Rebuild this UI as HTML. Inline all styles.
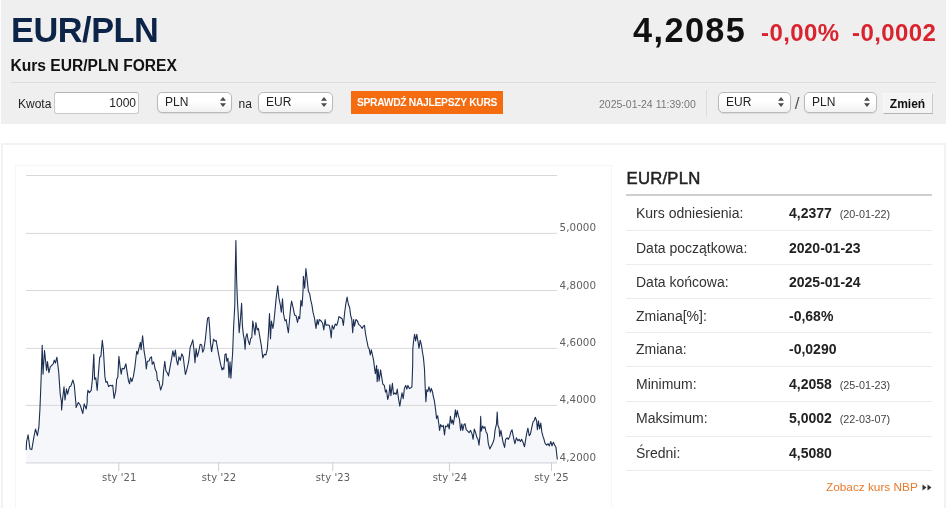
<!DOCTYPE html>
<html lang="pl">
<head>
<meta charset="utf-8">
<title>EUR/PLN</title>
<style>
html,body{margin:0;padding:0;background:#fff;}
body{width:948px;height:508px;position:relative;overflow:hidden;font-family:"Liberation Sans",sans-serif;color:#222;}
.abs{position:absolute;white-space:nowrap;}
#top{position:absolute;left:1px;top:0;width:945px;height:124px;background:#efefef;}
#h1{left:11px;top:10px;font-size:34.3px;line-height:40px;font-weight:bold;color:#0c2448;letter-spacing:-0.45px;}
#h2{left:10.5px;top:57px;font-size:15.6px;line-height:18px;font-weight:bold;color:#111;}
#price{font-size:34.3px;line-height:40px;font-weight:bold;color:#111;letter-spacing:1.4px;}
.chg{font-size:24px;line-height:28px;font-weight:bold;color:#d9232e;letter-spacing:.4px;}
#divider{position:absolute;left:11px;top:82px;width:925px;height:1px;background:#dcdcdc;}
.lbl{font-size:12px;line-height:14px;color:#222;}
.inp{position:absolute;box-sizing:border-box;background:#fff;border:1px solid #c9c9c9;border-top-color:#b5b5b5;border-radius:3px;font-size:12px;line-height:21px;text-align:right;padding-right:2px;color:#222;}
.sel{position:absolute;box-sizing:border-box;background:linear-gradient(#fff 45%,#f1f1f1);border:1px solid #b9b9b9;border-radius:5px;font-size:12px;line-height:19px;padding-left:7px;color:#222;box-shadow:0 1px 1px rgba(0,0,0,.08);}
.sel svg{position:absolute;right:5.5px;top:4px;}
#cta{position:absolute;left:351px;top:91px;width:152px;height:23px;background:#f56b10;color:#fff;font-size:10.3px;font-weight:bold;line-height:24.3px;text-align:center;letter-spacing:-0.3px;}
#date{left:599px;top:98px;font-size:10.5px;line-height:13px;color:#777;}
#vsep{position:absolute;left:706px;top:90px;width:1px;height:26px;background:#dcdcdc;}
#btn{position:absolute;box-sizing:border-box;left:882.5px;top:92.5px;width:50px;height:21.5px;background:#f4f4f4;border:1px solid #f7f7f7;border-bottom-color:#b4b4b4;border-right-color:#cacaca;font-size:12px;font-weight:bold;line-height:20px;text-align:center;color:#111;}
#frame{position:absolute;box-sizing:border-box;left:1px;top:143.3px;width:945px;height:380px;border:2.6px solid #f2f2f2;background:#fff;}
#chartbox{position:absolute;box-sizing:border-box;left:15px;top:165px;width:597px;height:360px;border:1px solid #f6f6f6;background:#fff;}
#ptitle{left:626.5px;top:169px;font-size:16.7px;line-height:20px;color:#222;-webkit-text-stroke:0.5px #222;letter-spacing:0.25px;}
#phead{position:absolute;left:626px;top:193.8px;width:306px;height:2px;background:#cfcfcf;}
.row{position:absolute;left:626px;width:306px;height:1px;background:#ececec;}
.k{left:636px;font-size:14px;line-height:16px;color:#333;}
.v{left:789px;font-size:14px;line-height:16px;font-weight:bold;color:#222;}
.d{font-size:10.8px;line-height:16px;color:#444;}
#nbp{left:826px;top:480px;font-size:11.8px;line-height:14px;color:#e87a2c;}
svg text{font-family:"DejaVu Sans","Liberation Sans",sans-serif;font-size:10px;fill:#606060;letter-spacing:0.1px;}
svg text.yl{font-size:10.3px;}
</style>
</head>
<body>
<div id="top"></div>
<div class="abs" id="h1">EUR/PLN</div>
<div class="abs" id="h2">Kurs EUR/PLN FOREX</div>
<div class="abs" id="price" style="left:633px;top:10.3px;">4,2085</div>
<div class="abs chg" style="left:761px;top:19.3px;">-0,00%</div>
<div class="abs chg" style="left:852px;top:19.3px;">-0,0002</div>
<div id="divider"></div>

<div class="abs lbl" style="left:18px;top:96.5px;">Kwota</div>
<div class="inp" style="left:54px;top:92.4px;width:85px;height:21.2px;">1000</div>
<div class="sel" style="left:157px;top:92.2px;width:75px;height:20.6px;">PLN<svg width="6" height="10" viewBox="0 0 6 10"><path d="M3 0L6 3.8H0ZM3 10L6 6.2H0Z" fill="#4a4a4a"/></svg></div>
<div class="abs lbl" style="left:238.5px;top:96.5px;">na</div>
<div class="sel" style="left:258px;top:92.2px;width:75px;height:20.6px;">EUR<svg width="6" height="10" viewBox="0 0 6 10"><path d="M3 0L6 3.8H0ZM3 10L6 6.2H0Z" fill="#4a4a4a"/></svg></div>
<div id="cta">SPRAWDŹ NAJLEPSZY KURS</div>
<div class="abs" id="date">2025-01-24 11:39:00</div>
<div id="vsep"></div>
<div class="sel" style="left:718px;top:92.2px;width:72.8px;height:20.6px;">EUR<svg width="6" height="10" viewBox="0 0 6 10"><path d="M3 0L6 3.8H0ZM3 10L6 6.2H0Z" fill="#4a4a4a"/></svg></div>
<div class="abs lbl" style="left:794.8px;top:95.3px;font-size:17px;line-height:18px;color:#555;">/</div>
<div class="sel" style="left:804px;top:92.2px;width:72.8px;height:20.6px;">PLN<svg width="6" height="10" viewBox="0 0 6 10"><path d="M3 0L6 3.8H0ZM3 10L6 6.2H0Z" fill="#4a4a4a"/></svg></div>
<div id="btn">Zmień</div>

<div id="frame"></div>
<div id="chartbox"></div>

<svg id="chart" class="abs" style="left:0;top:150px;" width="620" height="358" viewBox="0 150 620 358">
<!--AREA--><path d="M26.2 449.6 L26.6 441.5 L28.1 434.9 L30.0 448.9 L31.8 449.6 L34.0 436.4 L35.5 429.0 L37.4 435.6 L38.9 426.8 L39.9 409.8 L40.5 395.0 L41.1 379.3 L42.2 345.3 L43.0 374.1 L44.5 350.5 L46.6 370.4 L47.5 361.6 L48.9 372.7 L50.3 366.8 L53.2 363.8 L54.3 360.1 L55.4 363.1 L56.9 357.2 L58.7 371.9 L60.2 394.1 L61.4 401.5 L61.6 410.0 L61.6 409.8 L62.8 397.0 L64.0 386.7 L65.0 400.0 L66.5 388.9 L67.6 394.1 L69.5 386.7 L70.9 385.9 L72.9 380.0 L74.3 385.2 L76.1 405.9 L76.1 407.6 L78.3 402.4 L80.3 405.3 L82.8 413.5 L84.2 403.9 L86.2 409.0 L87.2 402.4 L87.2 397.0 L87.9 390.4 L89.4 392.6 L91.2 390.4 L92.4 379.3 L93.8 354.2 L94.6 379.3 L95.8 377.8 L97.2 390.4 L98.3 374.9 L99.7 357.2 L100.9 356.4 L102.3 340.2 L103.4 349.8 L104.9 376.4 L105.9 382.3 L107.1 381.5 L108.6 386.7 L110.4 385.2 L111.6 385.9 L112.7 385.2 L114.1 398.5 L115.7 391.1 L116.7 379.3 L117.8 377.1 L118.9 356.4 L120.1 366.8 L121.2 374.1 L122.2 368.2 L124.1 369.0 L125.9 363.8 L127.1 371.9 L128.5 380.8 L129.6 383.7 L130.5 377.8 L131.9 381.5 L133.4 376.4 L134.9 366.8 L136.7 351.2 L137.7 354.2 L138.9 348.3 L140.4 342.4 L141.1 349.8 L142.6 335.7 L144.1 351.2 L145.5 359.4 L146.3 369.0 L147.3 361.6 L149.2 360.8 L150.0 358.2 L151.5 356.8 L152.2 364.1 L153.7 361.9 L155.2 369.3 L156.6 372.3 L157.4 380.4 L158.9 381.1 L160.6 390.0 L162.6 384.1 L163.6 370.8 L164.8 361.2 L165.9 370.8 L167.4 373.0 L168.5 375.9 L169.9 367.8 L171.4 359.7 L172.9 350.8 L174.1 356.8 L175.4 350.1 L176.6 360.4 L177.8 364.9 L178.9 356.8 L180.3 360.4 L181.8 353.8 L183.2 356.8 L184.7 369.3 L185.4 374.5 L186.9 369.3 L188.7 361.2 L190.2 347.2 L191.4 344.2 L192.8 339.8 L194.0 350.1 L195.0 362.7 L196.1 348.6 L197.3 356.8 L198.7 351.6 L200.2 344.2 L201.7 344.9 L202.7 352.3 L203.9 349.4 L205.4 339.0 L206.6 326.9 L207.6 318.1 L208.8 317.3 L209.7 328.4 L210.5 342.7 L211.6 351.6 L212.8 344.2 L213.5 339.0 L215.0 341.2 L216.2 340.5 L217.6 348.6 L219.1 356.8 L220.6 364.1 L222.1 370.0 L223.1 367.8 L223.8 369.3 L225.0 354.5 L226.1 353.8 L226.8 361.2 L228.0 358.2 L229.0 377.4 L230.0 361.9 L230.9 378.2 L232.0 361.9 L232.6 353.5 L233.6 326.9 L234.8 304.8 L235.1 279.3 L235.9 240.6 L236.6 279.3 L237.4 300.3 L238.5 319.5 L239.2 332.8 L240.4 319.5 L241.6 303.3 L242.4 325.4 L243.3 334.3 L244.4 340.2 L245.1 349.1 L245.8 337.3 L247.0 333.6 L248.1 340.2 L249.5 344.6 L250.7 338.7 L251.8 337.3 L252.8 321.0 L254.0 328.4 L255.0 335.0 L255.9 322.5 L257.2 329.9 L258.4 328.4 L259.9 337.3 L261.4 346.1 L262.8 357.9 L264.3 354.2 L265.8 355.0 L267.3 349.1 L268.4 334.3 L269.5 313.6 L270.5 338.7 L271.4 321.0 L272.9 328.4 L273.9 321.8 L275.1 309.2 L276.1 298.9 L277.7 285.7 L278.9 297.8 L280.3 304.8 L281.3 312.2 L282.5 298.9 L283.5 313.6 L285.0 321.0 L286.2 319.5 L287.2 326.2 L288.4 332.8 L289.4 321.0 L290.6 307.7 L291.6 301.1 L293.1 307.7 L294.6 315.1 L296.1 315.8 L297.5 322.5 L298.6 316.6 L299.7 318.8 L300.9 300.3 L302.0 306.2 L303.0 291.5 L303.4 276.4 L304.7 288.2 L305.9 268.6 L307.2 280.1 L308.4 291.2 L309.6 293.4 L310.8 300.3 L311.9 304.8 L313.0 312.2 L314.5 318.1 L316.0 328.4 L317.2 319.5 L318.2 324.7 L319.2 319.5 L321.2 321.0 L322.6 323.2 L323.8 329.9 L325.1 319.5 L326.0 325.4 L327.8 324.7 L329.3 325.4 L330.5 331.4 L331.2 338.0 L332.2 325.4 L333.7 329.1 L335.2 324.0 L336.7 325.4 L337.7 322.5 L338.9 316.6 L340.0 317.3 L342.2 318.8 L343.4 325.4 L344.7 312.2 L345.9 303.3 L347.1 297.1 L348.3 304.0 L349.7 307.7 L350.6 315.1 L351.8 319.5 L352.7 332.8 L353.6 319.5 L354.5 326.2 L355.9 319.5 L357.4 321.0 L358.9 324.7 L360.7 326.2 L362.2 328.4 L363.3 326.2 L364.5 325.4 L365.4 332.8 L366.6 339.5 L368.1 346.9 L369.2 349.1 L370.3 355.0 L371.3 349.8 L372.5 355.0 L373.7 360.9 L374.7 369.2 L375.4 373.6 L376.6 365.5 L377.2 381.8 L378.1 369.2 L379.1 381.0 L380.6 369.9 L381.6 376.6 L382.8 384.0 L384.3 385.4 L385.5 392.1 L386.5 389.9 L387.7 399.5 L389.0 394.3 L389.9 384.7 L390.9 395.8 L392.4 383.2 L393.5 394.3 L394.9 392.8 L396.1 394.3 L397.3 389.1 L398.3 397.3 L399.8 406.1 L401.0 398.7 L402.0 392.8 L403.2 398.7 L404.4 388.4 L405.7 385.4 L406.8 389.1 L407.9 385.4 L409.4 388.4 L410.9 387.7 L411.9 386.9 L412.7 364.8 L412.8 349.1 L413.5 341.7 L414.6 334.3 L415.6 340.9 L416.8 334.3 L418.0 341.7 L419.0 348.3 L420.2 340.2 L421.5 345.4 L422.7 353.5 L423.4 357.4 L424.5 369.2 L425.2 386.9 L425.9 401.7 L426.8 389.9 L427.9 391.4 L428.9 386.9 L430.4 392.1 L431.3 388.4 L432.6 392.1 L433.0 395.0 L434.4 400.9 L435.6 409.8 L436.6 418.6 L437.7 415.7 L438.6 422.3 L439.6 430.4 L440.6 424.5 L441.8 426.8 L443.3 425.3 L444.5 434.9 L445.5 426.0 L447.0 426.8 L448.0 423.8 L449.2 429.0 L450.4 416.4 L451.4 423.1 L452.4 420.1 L453.3 424.5 L454.5 417.2 L455.4 409.8 L456.3 417.2 L457.3 410.5 L458.4 415.7 L459.5 419.4 L460.6 430.4 L461.8 423.8 L462.8 430.4 L464.0 424.5 L465.1 423.8 L466.2 429.7 L467.7 431.2 L469.1 432.7 L470.6 430.4 L472.1 434.1 L473.1 439.3 L474.3 429.0 L475.8 433.4 L477.0 437.8 L478.0 439.3 L479.0 445.2 L479.9 436.4 L480.7 416.4 L481.2 431.2 L482.7 426.0 L483.9 428.2 L484.9 426.8 L486.1 431.9 L487.3 434.1 L488.3 443.7 L489.8 448.9 L491.3 445.9 L492.8 443.0 L494.2 438.6 L495.0 430.4 L496.5 423.8 L497.2 412.0 L497.9 425.3 L499.1 428.2 L499.7 436.4 L500.9 430.4 L502.1 437.1 L503.1 442.3 L504.6 447.4 L505.6 439.3 L507.1 437.8 L508.3 439.3 L509.7 436.4 L510.9 431.9 L512.0 429.7 L513.0 434.9 L513.9 439.3 L514.9 443.7 L516.4 437.8 L517.9 440.8 L519.1 439.3 L520.4 441.5 L521.6 439.3 L523.0 442.3 L524.5 446.7 L525.7 439.3 L526.7 433.4 L527.9 428.2 L529.2 435.6 L530.4 434.1 L531.9 426.8 L533.1 421.6 L534.1 420.8 L535.3 417.2 L536.6 420.8 L537.4 429.7 L538.5 420.8 L539.6 429.0 L540.8 423.1 L541.8 431.9 L543.0 436.4 L544.0 439.3 L545.2 443.7 L546.7 445.2 L548.1 443.7 L549.3 445.9 L550.8 441.5 L552.0 445.9 L553.3 442.3 L554.8 445.2 L556.0 447.4 L556.7 454.1 L557.3 459.2 L557.3 462.5 L26.2 462.5 Z" fill="#f5f7fa" stroke="none"/><!--/AREA-->
<g stroke="#d8d8d8" stroke-width="1" fill="none">
<path d="M26 175.5H557.1M26 233.4H557.1M26 290.5H557.1M26 348.4H557.1M26 405.4H557.1"/>
</g>
<g stroke="#c9cfd8" stroke-width="1" fill="none">
<path d="M26 462.9H557.1"/>
<path d="M118.8 462.5V471M218.6 462.5V471M332.8 462.5V471M449.5 462.5V471M551.5 462.5V471"/>
</g>
<!--LINE--><path d="M26.2 449.6 L26.6 441.5 L28.1 434.9 L30.0 448.9 L31.8 449.6 L34.0 436.4 L35.5 429.0 L37.4 435.6 L38.9 426.8 L39.9 409.8 L40.5 395.0 L41.1 379.3 L42.2 345.3 L43.0 374.1 L44.5 350.5 L46.6 370.4 L47.5 361.6 L48.9 372.7 L50.3 366.8 L53.2 363.8 L54.3 360.1 L55.4 363.1 L56.9 357.2 L58.7 371.9 L60.2 394.1 L61.4 401.5 L61.6 410.0 L61.6 409.8 L62.8 397.0 L64.0 386.7 L65.0 400.0 L66.5 388.9 L67.6 394.1 L69.5 386.7 L70.9 385.9 L72.9 380.0 L74.3 385.2 L76.1 405.9 L76.1 407.6 L78.3 402.4 L80.3 405.3 L82.8 413.5 L84.2 403.9 L86.2 409.0 L87.2 402.4 L87.2 397.0 L87.9 390.4 L89.4 392.6 L91.2 390.4 L92.4 379.3 L93.8 354.2 L94.6 379.3 L95.8 377.8 L97.2 390.4 L98.3 374.9 L99.7 357.2 L100.9 356.4 L102.3 340.2 L103.4 349.8 L104.9 376.4 L105.9 382.3 L107.1 381.5 L108.6 386.7 L110.4 385.2 L111.6 385.9 L112.7 385.2 L114.1 398.5 L115.7 391.1 L116.7 379.3 L117.8 377.1 L118.9 356.4 L120.1 366.8 L121.2 374.1 L122.2 368.2 L124.1 369.0 L125.9 363.8 L127.1 371.9 L128.5 380.8 L129.6 383.7 L130.5 377.8 L131.9 381.5 L133.4 376.4 L134.9 366.8 L136.7 351.2 L137.7 354.2 L138.9 348.3 L140.4 342.4 L141.1 349.8 L142.6 335.7 L144.1 351.2 L145.5 359.4 L146.3 369.0 L147.3 361.6 L149.2 360.8 L150.0 358.2 L151.5 356.8 L152.2 364.1 L153.7 361.9 L155.2 369.3 L156.6 372.3 L157.4 380.4 L158.9 381.1 L160.6 390.0 L162.6 384.1 L163.6 370.8 L164.8 361.2 L165.9 370.8 L167.4 373.0 L168.5 375.9 L169.9 367.8 L171.4 359.7 L172.9 350.8 L174.1 356.8 L175.4 350.1 L176.6 360.4 L177.8 364.9 L178.9 356.8 L180.3 360.4 L181.8 353.8 L183.2 356.8 L184.7 369.3 L185.4 374.5 L186.9 369.3 L188.7 361.2 L190.2 347.2 L191.4 344.2 L192.8 339.8 L194.0 350.1 L195.0 362.7 L196.1 348.6 L197.3 356.8 L198.7 351.6 L200.2 344.2 L201.7 344.9 L202.7 352.3 L203.9 349.4 L205.4 339.0 L206.6 326.9 L207.6 318.1 L208.8 317.3 L209.7 328.4 L210.5 342.7 L211.6 351.6 L212.8 344.2 L213.5 339.0 L215.0 341.2 L216.2 340.5 L217.6 348.6 L219.1 356.8 L220.6 364.1 L222.1 370.0 L223.1 367.8 L223.8 369.3 L225.0 354.5 L226.1 353.8 L226.8 361.2 L228.0 358.2 L229.0 377.4 L230.0 361.9 L230.9 378.2 L232.0 361.9 L232.6 353.5 L233.6 326.9 L234.8 304.8 L235.1 279.3 L235.9 240.6 L236.6 279.3 L237.4 300.3 L238.5 319.5 L239.2 332.8 L240.4 319.5 L241.6 303.3 L242.4 325.4 L243.3 334.3 L244.4 340.2 L245.1 349.1 L245.8 337.3 L247.0 333.6 L248.1 340.2 L249.5 344.6 L250.7 338.7 L251.8 337.3 L252.8 321.0 L254.0 328.4 L255.0 335.0 L255.9 322.5 L257.2 329.9 L258.4 328.4 L259.9 337.3 L261.4 346.1 L262.8 357.9 L264.3 354.2 L265.8 355.0 L267.3 349.1 L268.4 334.3 L269.5 313.6 L270.5 338.7 L271.4 321.0 L272.9 328.4 L273.9 321.8 L275.1 309.2 L276.1 298.9 L277.7 285.7 L278.9 297.8 L280.3 304.8 L281.3 312.2 L282.5 298.9 L283.5 313.6 L285.0 321.0 L286.2 319.5 L287.2 326.2 L288.4 332.8 L289.4 321.0 L290.6 307.7 L291.6 301.1 L293.1 307.7 L294.6 315.1 L296.1 315.8 L297.5 322.5 L298.6 316.6 L299.7 318.8 L300.9 300.3 L302.0 306.2 L303.0 291.5 L303.4 276.4 L304.7 288.2 L305.9 268.6 L307.2 280.1 L308.4 291.2 L309.6 293.4 L310.8 300.3 L311.9 304.8 L313.0 312.2 L314.5 318.1 L316.0 328.4 L317.2 319.5 L318.2 324.7 L319.2 319.5 L321.2 321.0 L322.6 323.2 L323.8 329.9 L325.1 319.5 L326.0 325.4 L327.8 324.7 L329.3 325.4 L330.5 331.4 L331.2 338.0 L332.2 325.4 L333.7 329.1 L335.2 324.0 L336.7 325.4 L337.7 322.5 L338.9 316.6 L340.0 317.3 L342.2 318.8 L343.4 325.4 L344.7 312.2 L345.9 303.3 L347.1 297.1 L348.3 304.0 L349.7 307.7 L350.6 315.1 L351.8 319.5 L352.7 332.8 L353.6 319.5 L354.5 326.2 L355.9 319.5 L357.4 321.0 L358.9 324.7 L360.7 326.2 L362.2 328.4 L363.3 326.2 L364.5 325.4 L365.4 332.8 L366.6 339.5 L368.1 346.9 L369.2 349.1 L370.3 355.0 L371.3 349.8 L372.5 355.0 L373.7 360.9 L374.7 369.2 L375.4 373.6 L376.6 365.5 L377.2 381.8 L378.1 369.2 L379.1 381.0 L380.6 369.9 L381.6 376.6 L382.8 384.0 L384.3 385.4 L385.5 392.1 L386.5 389.9 L387.7 399.5 L389.0 394.3 L389.9 384.7 L390.9 395.8 L392.4 383.2 L393.5 394.3 L394.9 392.8 L396.1 394.3 L397.3 389.1 L398.3 397.3 L399.8 406.1 L401.0 398.7 L402.0 392.8 L403.2 398.7 L404.4 388.4 L405.7 385.4 L406.8 389.1 L407.9 385.4 L409.4 388.4 L410.9 387.7 L411.9 386.9 L412.7 364.8 L412.8 349.1 L413.5 341.7 L414.6 334.3 L415.6 340.9 L416.8 334.3 L418.0 341.7 L419.0 348.3 L420.2 340.2 L421.5 345.4 L422.7 353.5 L423.4 357.4 L424.5 369.2 L425.2 386.9 L425.9 401.7 L426.8 389.9 L427.9 391.4 L428.9 386.9 L430.4 392.1 L431.3 388.4 L432.6 392.1 L433.0 395.0 L434.4 400.9 L435.6 409.8 L436.6 418.6 L437.7 415.7 L438.6 422.3 L439.6 430.4 L440.6 424.5 L441.8 426.8 L443.3 425.3 L444.5 434.9 L445.5 426.0 L447.0 426.8 L448.0 423.8 L449.2 429.0 L450.4 416.4 L451.4 423.1 L452.4 420.1 L453.3 424.5 L454.5 417.2 L455.4 409.8 L456.3 417.2 L457.3 410.5 L458.4 415.7 L459.5 419.4 L460.6 430.4 L461.8 423.8 L462.8 430.4 L464.0 424.5 L465.1 423.8 L466.2 429.7 L467.7 431.2 L469.1 432.7 L470.6 430.4 L472.1 434.1 L473.1 439.3 L474.3 429.0 L475.8 433.4 L477.0 437.8 L478.0 439.3 L479.0 445.2 L479.9 436.4 L480.7 416.4 L481.2 431.2 L482.7 426.0 L483.9 428.2 L484.9 426.8 L486.1 431.9 L487.3 434.1 L488.3 443.7 L489.8 448.9 L491.3 445.9 L492.8 443.0 L494.2 438.6 L495.0 430.4 L496.5 423.8 L497.2 412.0 L497.9 425.3 L499.1 428.2 L499.7 436.4 L500.9 430.4 L502.1 437.1 L503.1 442.3 L504.6 447.4 L505.6 439.3 L507.1 437.8 L508.3 439.3 L509.7 436.4 L510.9 431.9 L512.0 429.7 L513.0 434.9 L513.9 439.3 L514.9 443.7 L516.4 437.8 L517.9 440.8 L519.1 439.3 L520.4 441.5 L521.6 439.3 L523.0 442.3 L524.5 446.7 L525.7 439.3 L526.7 433.4 L527.9 428.2 L529.2 435.6 L530.4 434.1 L531.9 426.8 L533.1 421.6 L534.1 420.8 L535.3 417.2 L536.6 420.8 L537.4 429.7 L538.5 420.8 L539.6 429.0 L540.8 423.1 L541.8 431.9 L543.0 436.4 L544.0 439.3 L545.2 443.7 L546.7 445.2 L548.1 443.7 L549.3 445.9 L550.8 441.5 L552.0 445.9 L553.3 442.3 L554.8 445.2 L556.0 447.4 L556.7 454.1 L557.3 459.2" fill="none" stroke="#1c2f52" stroke-width="1.1" stroke-linejoin="round" stroke-linecap="round"/><!--/LINE-->
<g>
<text class="yl" x="559.5" y="231">5,0000</text>
<text class="yl" x="559.5" y="288.5">4,8000</text>
<text class="yl" x="559.5" y="345.9">4,6000</text>
<text class="yl" x="559.5" y="403.2">4,4000</text>
<text class="yl" x="559.5" y="460.6">4,2000</text>
<text x="119.3" y="480.7" text-anchor="middle">sty '21</text>
<text x="219" y="480.7" text-anchor="middle">sty '22</text>
<text x="333" y="480.7" text-anchor="middle">sty '23</text>
<text x="450" y="480.7" text-anchor="middle">sty '24</text>
<text x="551.5" y="480.7" text-anchor="middle">sty '25</text>
</g>
</svg>

<div class="abs" id="ptitle">EUR/PLN</div>
<div id="phead"></div>
<div class="row" style="top:230px;"></div>
<div class="row" style="top:264px;"></div>
<div class="row" style="top:298px;"></div>
<div class="row" style="top:332px;"></div>
<div class="row" style="top:366px;"></div>
<div class="row" style="top:401px;"></div>
<div class="row" style="top:436px;"></div>
<div class="row" style="top:470px;"></div>

<div class="abs k" style="top:205px;">Kurs odniesienia:</div>
<div class="abs v" style="top:205px;">4,2377 <span class="d" style="font-weight:normal;margin-left:4px;">(20-01-22)</span></div>
<div class="abs k" style="top:240px;">Data początkowa:</div>
<div class="abs v" style="top:240px;">2020-01-23</div>
<div class="abs k" style="top:274px;">Data końcowa:</div>
<div class="abs v" style="top:274px;">2025-01-24</div>
<div class="abs k" style="top:308px;">Zmiana[%]:</div>
<div class="abs v" style="top:308px;">-0,68%</div>
<div class="abs k" style="top:341px;">Zmiana:</div>
<div class="abs v" style="top:341px;">-0,0290</div>
<div class="abs k" style="top:375.6px;">Minimum:</div>
<div class="abs v" style="top:375.6px;">4,2058 <span class="d" style="font-weight:normal;margin-left:4px;">(25-01-23)</span></div>
<div class="abs k" style="top:410.3px;">Maksimum:</div>
<div class="abs v" style="top:410.3px;">5,0002 <span class="d" style="font-weight:normal;margin-left:4px;">(22-03-07)</span></div>
<div class="abs k" style="top:445px;">Średni:</div>
<div class="abs v" style="top:445px;">4,5080</div>
<div class="abs" id="nbp">Zobacz kurs NBP <svg width="10" height="7" viewBox="0 0 10 7" style="margin-left:1px;"><path d="M0.5 0.5L4.5 3.5L0.5 6.5ZM5.5 0.5L9.5 3.5L5.5 6.5Z" fill="#333"/></svg></div>
</body>
</html>
